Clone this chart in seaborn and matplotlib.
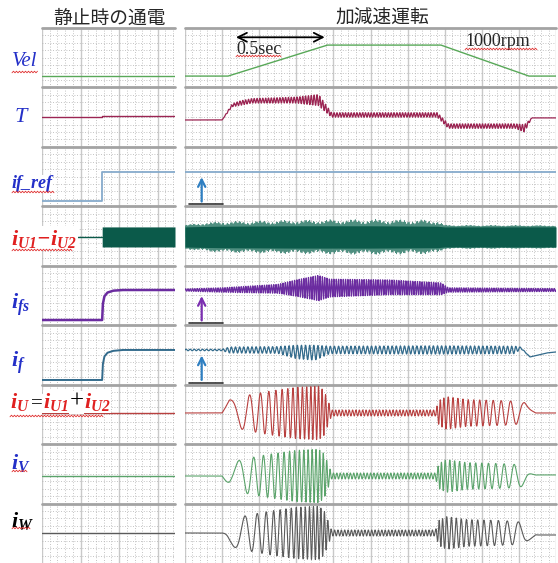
import numpy as np
import seaborn as sns
import matplotlib.pyplot as plt
from matplotlib.lines import Line2D
from matplotlib.ticker import MultipleLocator, NullLocator

sns.set_style("white")
plt.rcParams['font.family'] = ['Noto Sans CJK JP', 'DejaVu Sans']
plt.rcParams['mathtext.fontset'] = 'custom'
plt.rcParams['mathtext.rm'] = 'Liberation Serif'
plt.rcParams['mathtext.it'] = 'Liberation Serif:italic'
plt.rcParams['mathtext.bf'] = 'Liberation Serif:bold:italic'

# time in grid divisions; rows are 8 minor units tall
step_t = 1.56            # left panel: excitation switched on

# speed
vel_t = [0, 1.16, 3.84, 6.9, 9.27, 10]
vel_y = [1.53, 1.53, 5.7, 5.7, 1.53, 1.53]
vel_left = 1.53

# torque
trq_left = [4.02, 4.16]
trq_t = [0, 1.0, 1.27, 1.5, 1.8, 3.0, 3.6, 3.95, 6.8, 7.1, 8.9, 9.15, 9.35, 10]
trq_y = [3.62, 3.62, 5.6, 5.9, 6.2, 6.3, 6.3, 4.3, 4.3, 2.8, 2.8, 2.5, 3.9, 3.9]
trq_rip = [0, 0, 0.2, 0.3, 0.3, 0.4, 0.75, 0.3, 0.3, 0.3, 0.3, 0.5, 0, 0]

# field current reference
ifref_left = [0.71, 4.6]
ifref_right = 4.6

# iU1 - iU2
iu12_c = 3.88
iu12_left_band = 1.35
iu12_t = [0, 0.4, 1.0, 3.0, 5.0, 6.8, 7.0, 10]
iu12_core = [1.35, 1.4, 1.45, 1.5, 1.5, 1.45, 1.35, 1.35]
iu12_spike = [1.6, 1.9, 2.1, 2.3, 2.4, 2.3, 1.6, 1.55]

# ifs
ifs_left_t = [0, 1.56, 1.58, 1.62, 1.7, 1.85, 2.1, 3.45]
ifs_left_y = [0.7, 0.7, 2.9, 3.9, 4.4, 4.65, 4.74, 4.74]
ifs_t = [0, 1.0, 2.5, 3.0, 3.6, 3.9, 5.5, 6.9, 7.1, 10]
ifs_y = [4.74, 4.74, 4.9, 5.0, 5.0, 5.0, 5.1, 4.9, 4.74, 4.74]
ifs_rip = [0.15, 0.3, 0.6, 1.1, 1.7, 1.2, 1.0, 0.8, 0.3, 0.2]

# if
if_left_t = [0, 1.56, 1.58, 1.62, 1.7, 1.85, 2.1, 3.45]
if_left_y = [0.63, 0.63, 2.8, 3.8, 4.3, 4.55, 4.67, 4.67]
if_t = [0, 1.0, 1.2, 2.5, 3.0, 3.5, 3.9, 6.8, 8.9, 9.05, 9.3, 9.75, 10]
if_y = [4.67, 4.67, 4.67, 4.67, 4.4, 4.3, 4.67, 4.67, 4.67, 4.95, 3.73, 4.27, 4.4]
if_rip = [0.1, 0.1, 0.4, 0.45, 0.9, 1.0, 0.5, 0.55, 0.5, 0.1, 0, 0, 0]

# phase currents
elec_t = [0, 1.0, 3.84, 6.9, 7.05, 7.6, 8.3, 8.9, 9.35, 10]
elec_f = [0, 0, 11, 11, 8, 7, 5, 3.2, 0, 0]   # cycles per division
elec_phase0 = 0.18                            # cycles
env_t = [0, 1.0, 1.2, 1.7, 2.3, 3.0, 3.6, 3.75, 3.95, 6.75, 6.85, 7.05, 7.6, 8.3, 8.8, 9.15, 9.45, 10]
env_a = [0, 0, 1.75, 2.4, 2.95, 3.45, 3.6, 3.0, 0.4, 0.4, 1.7, 2.2, 1.8, 1.7, 1.6, 1.4, 0, 0]
iu_zero = [4.19, 4.19]
iv_zero = [3.71, 3.85]
iw_zero = [4.04, 3.77]

C_VEL, C_T, C_REF = "#58a858", "#9b2452", "#86aacb"
C_U12, C_FS, C_F = "#0b5a4a", "#6b2ca0", "#336b8c"
C_U, C_V, C_W = "#b8403f", "#5aa36a", "#5a5a5a"

W, H = 558, 563
row_h = (H - 28) / 9
LMAX, RMAX = 3.45, 10.0

fig = plt.figure(figsize=(W / 100, H / 100), dpi=100)


def make_ax(col, row):
    x0, w, xmax = (42, 133, LMAX) if col == 0 else (185, 371, RMAX)
    top = 28 + row * row_h
    ax = fig.add_axes([x0 / W, 1 - (top + row_h) / H, w / W, row_h / H])
    ax.set_xlim(0, xmax)
    ax.set_ylim(0, 8)
    ax.xaxis.set_major_locator(MultipleLocator(1))
    ax.xaxis.set_minor_locator(MultipleLocator(0.2))
    ax.yaxis.set_major_locator(NullLocator())
    ax.yaxis.set_minor_locator(MultipleLocator(1))
    ax.grid(which='major', axis='x', color='#c9c9c9', lw=1.0)
    ax.grid(which='minor', axis='both', color='#b0b0b0', lw=0.6, ls=(0, (1, 2.2)))
    ax.tick_params(which='both', length=0, labelbottom=False, labelleft=False)
    for s in ax.spines.values():
        s.set_visible(False)
    ax.set_axisbelow(True)
    ax.axhline(8, color='#a3a3a3', lw=2, clip_on=False, zorder=1)
    return ax


def trace(ax, x, y, color, lw=1.0, z=3):
    sns.lineplot(x=x, y=y, ax=ax, color=color, lw=lw, estimator=None, sort=False,
                 errorbar=None, legend=False, zorder=z)


tl = np.linspace(0, LMAX, 1400)
tr = np.linspace(0, RMAX, 6001)
axes = [[make_ax(c, r) for c in range(2)] for r in range(9)]

# Vel
trace(axes[0][0], [0, LMAX], [vel_left, vel_left], C_VEL)
trace(axes[0][1], vel_t, vel_y, C_VEL)

# T
trace(axes[1][0], [0, step_t, step_t, LMAX], [trq_left[0], trq_left[0], trq_left[1], trq_left[1]], C_T)
trace(axes[1][1], tr, np.interp(tr, trq_t, trq_y) + np.interp(tr, trq_t, trq_rip) * np.sin(2 * np.pi * 13 * tr), C_T, 0.9)

# if_ref
trace(axes[2][0], [0, step_t, step_t, LMAX], [ifref_left[0], ifref_left[0], ifref_left[1], ifref_left[1]], C_REF, 1.3)
trace(axes[2][1], [0, RMAX], [ifref_right, ifref_right], C_REF, 1.3)

# iU1 - iU2
tex = np.sin(2 * np.pi * 31 * tr) * (0.6 + 0.4 * np.sin(2 * np.pi * 5.3 * tr) * np.cos(2 * np.pi * 3.7 * tr))
core = np.interp(tr, iu12_t, iu12_core)
spk = np.interp(tr, iu12_t, iu12_spike)
axes[3][1].fill_between(tr, iu12_c - core, iu12_c + core, color=C_U12, lw=0, zorder=3)
trace(axes[3][1], tr, iu12_c + np.sign(tex) * (core + (spk - core) * np.abs(tex)), "#4f8f80", 0.5, z=2.5)
trace(axes[3][0], [0, step_t], [iu12_c, iu12_c], C_U12)
tb = tl[tl >= step_t]
axes[3][0].fill_between(tb, iu12_c - iu12_left_band, iu12_c + iu12_left_band, color=C_U12, lw=0, zorder=3)

# ifs
trace(axes[4][0], ifs_left_t, ifs_left_y, C_FS, 1.8)
trace(axes[4][1], tr, np.interp(tr, ifs_t, ifs_y) + np.interp(tr, ifs_t, ifs_rip) * np.sin(2 * np.pi * 16 * tr), C_FS, 0.9)

# if
trace(axes[5][0], if_left_t, if_left_y, C_F, 1.4)
trace(axes[5][1], tr, np.interp(tr, if_t, if_y) + np.interp(tr, if_t, if_rip) * np.sin(2 * np.pi * 9 * tr), C_F, 0.9)

# phase currents
f = np.interp(tr, elec_t, elec_f)
cyc = np.concatenate([[0], np.cumsum((f[1:] + f[:-1]) / 2 * np.diff(tr))]) + elec_phase0
th = 2 * np.pi * cyc
env = np.interp(tr, env_t, env_a)
for r, zero, shift, col in [(6, iu_zero, 0, C_U), (7, iv_zero, 1, C_V), (8, iw_zero, 2, C_W)]:
    base = np.interp(tr, [9.0, 9.5], zero)
    trace(axes[r][0], [0, LMAX], [zero[0], zero[0]], col)
    trace(axes[r][1], tr, base + env * np.sin(th - shift * 2 * np.pi / 3), col, 0.8)

# arrows in right panel
for r, col in [(2, "#2f7fc1"), (4, "#7b2fb0"), (5, "#2f7fc1")]:
    ax = axes[r][1]
    ax.plot([0.1, 1.03], [0.27, 0.27], color='#333333', lw=1.2, zorder=4)
    ax.annotate('', xy=(0.45, 4.3), xytext=(0.45, 0.27),
                arrowprops=dict(arrowstyle='->', color=col, lw=1.6, mutation_scale=13), zorder=5)

ax = axes[0][1]
ax.annotate('', xy=(1.3, 6.75), xytext=(3.84, 6.75),
            arrowprops=dict(arrowstyle='<->', color='black', lw=1.3, mutation_scale=16))
ax.text(1.38, 5.05, '0.5sec', family='Liberation Serif', fontsize=13, va='center', ha='left')
ax.text(7.57, 6.25, '1000rpm', family='Liberation Serif', fontsize=13, va='center', ha='left')

# titles
fig.text(109 / W, 1 - 18 / H, '静止時の通電', ha='center', va='center', fontsize=13.5)
fig.text(382 / W, 1 - 18 / H, '加減速運転', ha='center', va='center', fontsize=13.5)

# row labels
box = dict(fc='white', ec='none', pad=0.3)
BLUE, RED = "#2430c8", "#e02020"


def label(x, y, s, color, size=15, va='center', **kw):
    return fig.text(x / W, 1 - y / H, s, color=color, fontsize=size, ha='left', va=va,
                    bbox=box, zorder=10, **kw)


label(12, 62, 'Vel', BLUE, 15, family='Liberation Serif', style='italic')
label(15, 117, 'T', BLUE, 16, family='Liberation Serif', style='italic')
label(12, 184, 'if_ref', BLUE, 13, family='Liberation Serif', style='italic', weight='bold')
label(11, 238, r'$\mathbf{i_{U1}{-}i_{U2}}$', RED, 16)
label(11, 305, r'$\mathbf{i_{fs}}$', BLUE, 16)
label(11, 363, r'$\mathbf{i_{f}}$', BLUE, 16)
label(11, 462, r'$\mathbf{i_{V}}$', BLUE, 16)
label(11, 520, r'$\mathbf{i_{W}}$', 'black', 16)

# iU = iU1 + iU2, pieces chained along one baseline
rend = fig.canvas.get_renderer()
px = 10
for s, col, size, fam in [(r'$\mathbf{i_{U}}$', RED, 16, None), ('=', 'black', 15, 'Liberation Serif'),
                          (r'$\mathbf{i_{U1}}$', RED, 16, None), ('+', 'black', 18, 'Liberation Serif'),
                          (r'$\mathbf{i_{U2}}$', RED, 16, None)]:
    kw = {'family': fam} if fam else {}
    t = label(px, 408, s, col, size, va='baseline', **kw)
    px = t.get_window_extent(rend).x1 + 0.5

# red spell-check squiggles
for x0, x1, y in [(12, 38, 72), (12, 55, 192), (12, 72, 250), (10, 104, 416), (12, 27, 471),
                  (12, 30, 528), (236, 282, 56), (465, 537, 49)]:
    xs = np.arange(x0, x1 + 0.1, 1.5)
    ys = y + 0.8 * (-1) ** np.arange(len(xs))
    fig.add_artist(Line2D(xs / W, 1 - ys / H, color='#e03030', lw=0.6, zorder=11))

fig.savefig("out.png", dpi=100)
